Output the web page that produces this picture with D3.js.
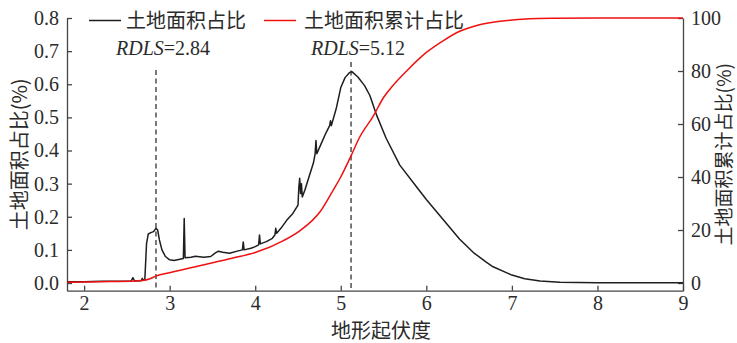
<!DOCTYPE html>
<meta charset="utf-8">
<style>
body { margin: 0; background: #fff; }
svg text { fill: #2b2b2b; }
.tick text { font-family: "Liberation Serif", "Times New Roman", serif; font-size: 20px; }
.cjk { font-family: "Noto Sans CJK SC", sans-serif; font-size: 20px; }
</style>
<svg width="737" height="343"></svg>
<script src="https://d3js.org/d3.v7.min.js"></script>
<script>

// 地形起伏度 (x) and 土地面积占比 (%) — black curve
var areaX = [1.8, 2.0, 2.2, 2.4, 2.55, 2.57, 2.59, 2.67, 2.68, 2.69, 2.71, 2.73, 2.75, 2.78, 2.81, 2.84, 2.86, 2.88, 2.91, 2.95,
  3.0, 3.05, 3.12, 3.16, 3.17, 3.18, 3.25, 3.3, 3.4, 3.48, 3.53, 3.57, 3.62, 3.7, 3.8, 3.85, 3.86, 3.87, 3.95,
  4.0, 4.04, 4.05, 4.06, 4.13, 4.2, 4.23, 4.24, 4.25, 4.3, 4.37, 4.44, 4.5, 4.51, 4.52, 4.53, 4.54, 4.55, 4.58,
  4.64, 4.68, 4.70, 4.71, 4.72, 4.77, 4.83, 4.87, 4.88, 4.89, 4.95, 5.0, 5.05, 5.1, 5.13, 5.2, 5.28, 5.34, 5.42,
  5.53, 5.69, 5.88, 6.0, 6.12, 6.25, 6.39, 6.55, 6.7, 6.78, 7.0, 7.15, 7.33, 7.56, 8.0, 9.0];
var areaPct = [0.004, 0.004, 0.005, 0.005, 0.006, 0.016, 0.006, 0.007, 0.014, 0.008, 0.012, 0.12, 0.148, 0.152, 0.155, 0.165, 0.16, 0.13, 0.10, 0.08,
  0.07, 0.068, 0.072, 0.074, 0.195, 0.076, 0.078, 0.081, 0.078, 0.08, 0.09, 0.096, 0.093, 0.09, 0.097, 0.10, 0.124, 0.10, 0.105,
  0.11, 0.115, 0.145, 0.118, 0.125, 0.135, 0.145, 0.165, 0.15, 0.165, 0.19, 0.21, 0.235, 0.29, 0.316, 0.27, 0.30, 0.26, 0.28,
  0.33, 0.362, 0.39, 0.43, 0.39, 0.42, 0.455, 0.475, 0.49, 0.475, 0.53, 0.59, 0.62, 0.635, 0.638, 0.622, 0.595, 0.566, 0.506,
  0.437, 0.356, 0.292, 0.252, 0.215, 0.175, 0.132, 0.092, 0.063, 0.049, 0.024, 0.013, 0.006, 0.002, 0.001, 0.001];

// 土地面积累计占比 (%) — red curve
var cumX = [1.8, 2.2, 2.6, 2.7, 2.76, 2.84, 2.9, 3.0, 3.35, 3.74, 4.0, 4.33, 4.52, 4.76, 4.91, 5.0, 5.12, 5.22, 5.38,
  5.5, 5.61, 5.77, 6.0, 6.2, 6.39, 6.6, 6.78, 7.0, 7.2, 7.5, 8.0, 9.0];
var cumPct = [0.3, 0.5, 0.8, 1.0, 1.5, 2.6, 3.2, 3.9, 6.5, 9.4, 11.5, 16, 19.7, 27, 35, 40, 48, 55, 63,
  70, 74.5, 80, 87, 91.5, 95, 97.3, 98.4, 99.2, 99.7, 99.9, 100, 100];

var xTicks = [2, 3, 4, 5, 6, 7, 8, 9];
var leftTicks = [0, 0.1, 0.2, 0.3, 0.4, 0.5, 0.6, 0.7, 0.8];
var rightTicks = [0, 20, 40, 60, 80, 100];
var markers = [2.84, 5.12];
var markerTop = [0.643, 0.667];

var svg = d3.select("svg");
var plotL = 67, plotR = 683, plotT = 18, plotB = 290.7;

var x = d3.scaleLinear().domain([1.8, 9]).range([plotL, plotR]);
var y = d3.scaleLinear().domain([-0.0232, 0.8]).range([plotB, plotT]);
var y2 = d3.scaleLinear().domain([-2.9, 100]).range([plotB, plotT]);

function styleAxis(g) {
  g.select(".domain").attr("stroke", "#444").attr("stroke-width", 1.3);
  g.selectAll(".tick line").attr("stroke", "#444").attr("stroke-width", 1.3);
}

svg.append("g")
    .attr("transform", "translate(0," + plotB + ")")
    .call(d3.axisBottom(x).tickValues(xTicks).tickSize(-5).tickSizeOuter(0).tickPadding(5).tickFormat(d3.format("d")))
    .call(styleAxis);

svg.append("g")
    .attr("transform", "translate(" + plotL + ",0)")
    .call(d3.axisLeft(y).tickValues(leftTicks).tickSize(-5).tickSizeOuter(0).tickPadding(8).tickFormat(d3.format(".1f")))
    .call(styleAxis);

svg.append("g")
    .attr("transform", "translate(" + plotR + ",0)")
    .call(d3.axisRight(y2).tickValues(rightTicks).tickSize(-5).tickSizeOuter(0).tickPadding(8))
    .call(styleAxis);

svg.selectAll(".tick text").attr("fill", "#2b2b2b");

// dashed RDLS markers
svg.selectAll(".marker")
  .data(markers)
  .enter().append("line")
    .attr("class", "marker")
    .attr("x1", function(d) { return x(d); })
    .attr("x2", function(d) { return x(d); })
    .attr("y1", function(d, i) { return y(markerTop[i]); })
    .attr("y2", plotB)
    .attr("stroke", "#333")
    .attr("stroke-width", 1.3)
    .attr("stroke-dasharray", "5,3.5");

var lineArea = d3.line()
    .x(function(d, i) { return x(areaX[i]); })
    .y(function(d) { return y(d); });

var lineCum = d3.line()
    .curve(d3.curveMonotoneX)
    .x(function(d, i) { return x(cumX[i]); })
    .y(function(d) { return y2(d); });

svg.append("path")
    .attr("d", lineArea(areaPct))
    .attr("fill", "none")
    .attr("stroke", "#1e1e1e")
    .attr("stroke-width", 1.5)
    .attr("stroke-linejoin", "round");

svg.append("path")
    .attr("d", lineCum(cumPct))
    .attr("fill", "none")
    .attr("stroke", "#f01010")
    .attr("stroke-width", 1.5);

// legend
var legend = [
  { label: "土地面积占比", color: "#1e1e1e", x0: 89, tx: 126 },
  { label: "土地面积累计占比", color: "#f01010", x0: 264, tx: 304 }
];
legend.forEach(function(l) {
  svg.append("line")
      .attr("x1", l.x0).attr("x2", l.x0 + 32)
      .attr("y1", 20.5).attr("y2", 20.5)
      .attr("stroke", l.color).attr("stroke-width", 1.5);
  svg.append("text")
      .attr("class", "cjk")
      .attr("x", l.tx).attr("y", 27.5)
      .text(l.label);
});

// RDLS annotations
markers.forEach(function(m, i) {
  var t = svg.append("text")
      .attr("x", x(m) - 40)
      .attr("y", 55)
      .style("font-family", "'Liberation Serif', serif")
      .style("font-size", "20px");
  t.append("tspan").style("font-style", "italic").text("RDLS");
  t.append("tspan").text("=" + m.toFixed(2));
});

// axis titles
svg.append("text")
    .attr("class", "cjk")
    .attr("x", (plotL + plotR) / 2 + 6)
    .attr("y", 338)
    .attr("text-anchor", "middle")
    .text("地形起伏度");

svg.append("text")
    .attr("class", "cjk")
    .attr("transform", "translate(27," + ((plotT + plotB) / 2) + ") rotate(-90)")
    .attr("text-anchor", "middle")
    .text("土地面积占比(%)");

svg.append("text")
    .attr("class", "cjk")
    .style("font-size", "19px")
    .attr("transform", "translate(731," + ((plotT + plotB) / 2) + ") rotate(-90)")
    .attr("text-anchor", "middle")
    .text("土地面积累计占比(%)");

</script>
